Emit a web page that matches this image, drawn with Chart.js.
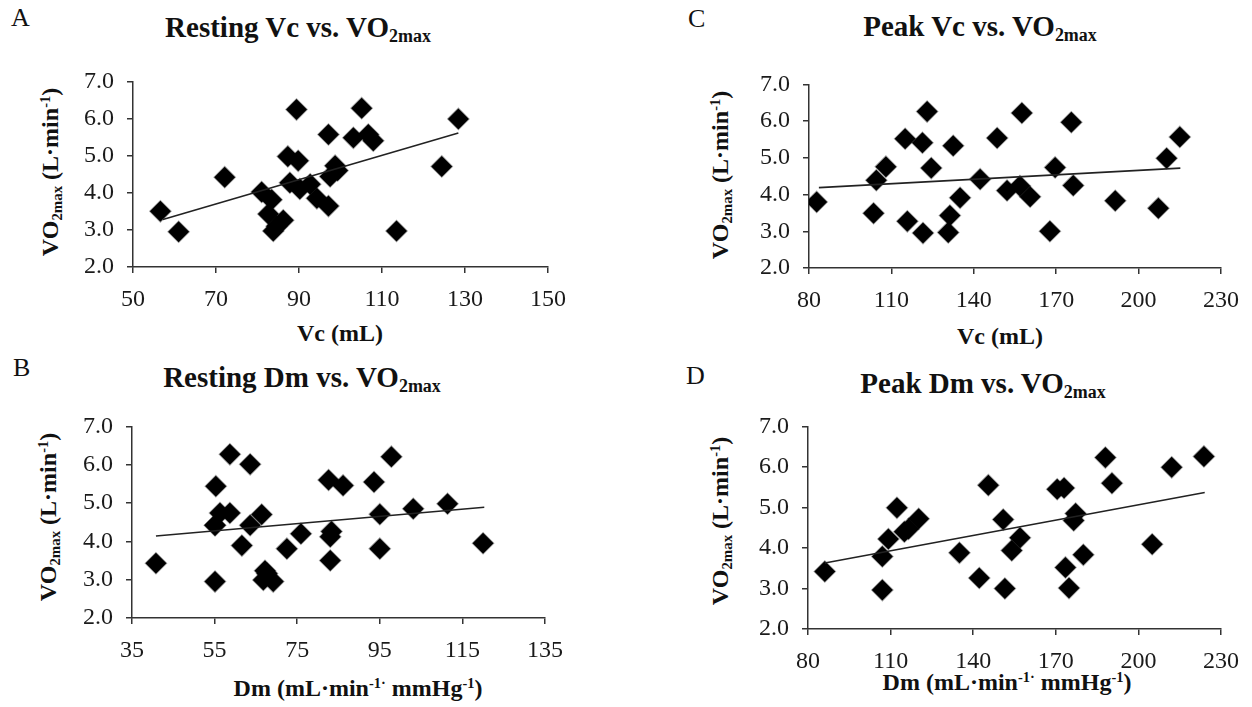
<!DOCTYPE html>
<html>
<head>
<meta charset="utf-8">
<title>Vc and Dm vs. VO2max</title>
<script src="https://cdn.jsdelivr.net/npm/chart.js"></script>
<style>
  html, body { margin: 0; padding: 0; background: #fff; }
  body { width: 1252px; height: 707px; position: relative; overflow: hidden;
         font-family: "Liberation Serif", "Times New Roman", serif; color: #111; }
  canvas { position: absolute; }
  .letter { position: absolute; font-size: 26px; line-height: 26px; }
  .title { position: absolute; font-size: 29px; line-height: 29px; font-weight: bold;
           white-space: nowrap; transform: translateX(-50%); }
  .axt { position: absolute; font-size: 24px; line-height: 24px; font-weight: bold;
         white-space: nowrap; transform: translate(-50%, -50%); }
  .axt.rot { transform: translate(-50%, -50%) rotate(-90deg); }
  sub { font-size: 0.62em; vertical-align: -0.3em; line-height: 0; }
  sup { font-size: 0.6em; vertical-align: 0.55em; line-height: 0; }
</style>
</head>
<body>

<div class="letter" style="left:11px; top:5px;">A</div>
<div class="letter" style="left:688px; top:6px;">C</div>
<div class="letter" style="left:13px; top:355px;">B</div>
<div class="letter" style="left:686px; top:363px;">D</div>

<div class="title" style="left:298px; top:13px;">Resting Vc vs. VO<sub>2max</sub></div>
<div class="title" style="left:980px; top:12px;">Peak Vc vs. VO<sub>2max</sub></div>
<div class="title" style="left:302px; top:363px;">Resting Dm vs. VO<sub>2max</sub></div>
<div class="title" style="left:983px; top:369px;">Peak Dm vs. VO<sub>2max</sub></div>

<div class="axt rot" style="left:50px; top:172px;">VO<sub>2max</sub> (L·min<sup>-1</sup>)</div>
<div class="axt rot" style="left:720px; top:175px;">VO<sub>2max</sub> (L·min<sup>-1</sup>)</div>
<div class="axt rot" style="left:48px; top:517px;">VO<sub>2max</sub> (L·min<sup>-1</sup>)</div>
<div class="axt rot" style="left:720px; top:521px;">VO<sub>2max</sub> (L·min<sup>-1</sup>)</div>

<div class="axt" style="left:340px; top:333px;">Vc (mL)</div>
<div class="axt" style="left:1000px; top:336px;">Vc (mL)</div>
<div class="axt" style="left:358px; top:688px;">Dm (mL·min<sup>-1·</sup> mmHg<sup>-1</sup>)</div>
<div class="axt" style="left:1007px; top:682px;">Dm (mL·min<sup>-1·</sup> mmHg<sup>-1</sup>)</div>

<canvas id="chartA" style="left:73px; top:54px;" width="505" height="257"></canvas>
<canvas id="chartC" style="left:749px; top:57px;" width="502" height="255"></canvas>
<canvas id="chartB" style="left:72px; top:399px;" width="503" height="263"></canvas>
<canvas id="chartD" style="left:748px; top:399px;" width="503" height="274"></canvas>

<script>
// A: resting Vc (mL) vs VO2max (L/min)
const restVc = [56.6, 61.0, 72.1, 81.0, 83.4, 82.6, 86.2, 84.6, 83.8, 87.3, 89.8, 87.8, 90.2, 92.7,
                94.3, 97.1, 97.5, 98.7, 99.3, 89.4, 97.1, 103.1, 105.1, 106.7, 107.9, 113.5, 124.4, 128.4];
const restVcVO2 = [3.50, 2.95, 4.42, 4.02, 3.81, 3.43, 3.26, 3.10, 2.97, 4.98, 4.86, 4.27, 4.10, 4.23,
                   3.85, 3.64, 4.44, 4.73, 4.60, 6.24, 5.57, 5.48, 6.28, 5.57, 5.40, 2.97, 4.71, 5.99];
const restVcFit = [[57.2, 3.28], [128.4, 5.61]];

// B: resting Dm vs VO2max
const restDm = [40.8, 55.1, 55.3, 56.3, 58.7, 55.1, 58.7, 63.6, 66.4, 63.6, 61.6, 72.5, 55.1, 67.2,
                66.8, 69.2, 67.7, 75.9, 82.6, 83.0, 83.3, 83.0, 86.1, 93.6, 95.0, 95.0, 97.8, 103.1,
                111.4, 120.0];
const restDmVO2 = [3.43, 4.42, 5.44, 4.74, 4.74, 4.42, 6.27, 6.01, 4.70, 4.42, 3.89, 3.81, 2.95, 3.23,
                   2.99, 2.95, 3.16, 4.20, 5.60, 4.12, 4.26, 3.50, 5.46, 5.55, 4.71, 3.81, 6.21, 4.85,
                   4.98, 3.95];
const restDmFit = [[40.8, 4.14], [120.3, 4.89]];

// C: peak Vc vs VO2max
const peakVc = [82.8, 103.5, 104.5, 108.0, 115.0, 115.8, 121.3, 121.5, 123.0, 124.5, 130.7, 131.3,
                132.5, 135.0, 142.3, 148.5, 152.1, 156.8, 157.5, 160.5, 167.7, 169.6, 175.5, 176.2,
                191.5, 207.2, 210.2, 215.0];
const peakVcVO2 = [3.80, 3.49, 4.39, 4.76, 5.52, 3.27, 5.41, 2.95, 6.26, 4.72, 2.97, 3.43,
                   5.33, 3.91, 4.42, 5.54, 4.11, 4.23, 6.22, 3.94, 3.00, 4.74, 5.97, 4.25,
                   3.83, 3.63, 4.99, 5.57];
const peakVcFit = [[83.6, 4.19], [215.2, 4.72]];

// D: peak Dm vs VO2max
const peakDm = [86.1, 107.0, 107.0, 109.2, 112.3, 115.0, 116.5, 120.2, 135.0, 142.2, 145.5, 150.9,
                151.5, 154.0, 157.0, 170.5, 173.0, 173.5, 174.8, 176.5, 177.2, 180.0, 188.0, 190.4,
                205.0, 212.1, 223.8];
const peakDmVO2 = [3.42, 3.79, 2.96, 4.22, 4.99, 4.40, 4.47, 4.72, 3.88, 3.26, 5.55, 4.70,
                   3.00, 3.94, 4.25, 5.45, 5.48, 3.52, 3.01, 4.68, 4.85, 3.83, 6.23, 5.60,
                   4.09, 5.99, 6.26];
const peakDmFit = [[86.1, 3.63], [224.1, 5.37]];

const yTicks = { min: 2, max: 7, step: 1 };

const axisColor = '#333';
Chart.defaults.font.family = 'Liberation Serif';
Chart.defaults.font.size = 24;
Chart.defaults.color = '#1a1a1a';

function makePanel(id, xs, ys, fit, xMin, xMax, xStep) {
  const pts = xs.map((x, i) => ({ x: x, y: ys[i] }));
  const line = fit.map(p => ({ x: p[0], y: p[1] }));
  return new Chart(document.getElementById(id), {
    type: 'scatter',
    data: {
      datasets: [
        {
          data: line,
          showLine: true,
          borderColor: '#222',
          borderWidth: 1.6,
          pointRadius: 0
        },
        {
          data: pts,
          pointStyle: 'rectRot',
          pointRadius: 10.5,
          backgroundColor: '#000',
          borderColor: 'rgba(0,0,0,0.35)',
          borderWidth: 1.5
        }
      ]
    },
    options: {
      responsive: false,
      animation: false,
      devicePixelRatio: 1,
      layout: { padding: { top: 14, right: 30, left: 0, bottom: 0 } },
      plugins: { legend: { display: false }, tooltip: { enabled: false } },
      scales: {
        x: {
          min: xMin, max: xMax,
          afterFit: s => { s.height = 44; },
          ticks: { stepSize: xStep, padding: 12, maxRotation: 0 },
          grid: { drawOnChartArea: false, tickLength: 6, color: axisColor, lineWidth: 1.5 },
          border: { color: axisColor, width: 1.5 }
        },
        y: {
          min: yTicks.min, max: yTicks.max,
          afterFit: s => { s.width = 60; },
          ticks: { stepSize: yTicks.step, padding: 13, callback: v => v.toFixed(1) },
          grid: { drawOnChartArea: false, tickLength: 6, color: axisColor, lineWidth: 1.5 },
          border: { color: axisColor, width: 1.5 }
        }
      }
    }
  });
}

function drawAll() {
  makePanel('chartA', restVc, restVcVO2, restVcFit, 50, 150, 20);
  makePanel('chartB', restDm, restDmVO2, restDmFit, 35, 135, 20);
  makePanel('chartC', peakVc, peakVcVO2, peakVcFit, 80, 230, 30);
  makePanel('chartD', peakDm, peakDmVO2, peakDmFit, 80, 230, 30);
}

document.fonts.load('24px "Liberation Serif"').then(drawAll, drawAll);
</script>
</body>
</html>
